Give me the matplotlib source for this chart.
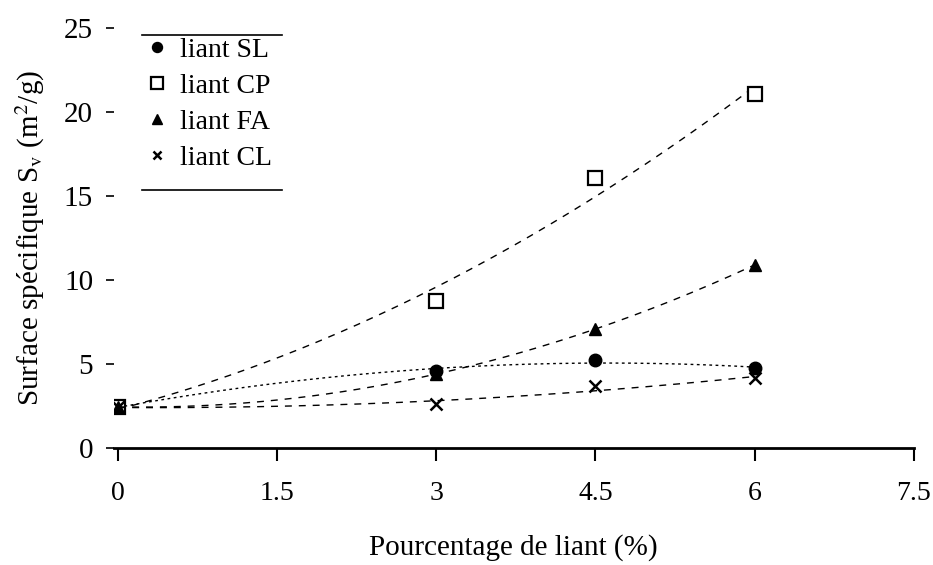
import numpy as np
import matplotlib.pyplot as plt
from matplotlib.lines import Line2D

plt.rcParams['font.family'] = ['Liberation Serif', 'DejaVu Serif']
plt.rcParams['mathtext.fontset'] = 'stix'

# values
liant = [0, 3, 4.5, 6]
sl = [2.45, 4.6, 5.25, 4.75]
cp = [2.45, 8.75, 16.1, 21.1]
fa = [2.45, 4.4, 7.1, 10.9]
cl = [2.45, 2.6, 3.7, 4.15]

xticks = [0, 1.5, 3, 4.5, 6, 7.5]
yticks = [0, 5, 10, 15, 20, 25]

series = [
    ('liant SL', sl, dict(marker='o', mfc='black', ms=9), (0, (2.0, 2.5))),
    ('liant CP', cp, dict(marker='s', mfc='white', ms=10, mew=1.6), (0, (5, 5))),
    ('liant FA', fa, dict(marker='^', mfc='black', ms=9), (0, (5, 5))),
    ('liant CL', cl, dict(marker='x', ms=8, mew=1.8), (0, (5, 5))),
]

fig = plt.figure(figsize=(9.33, 5.65), dpi=100)
ax = fig.add_axes([0.1222, 0.207, 0.857, 0.743])

xx = np.linspace(0, 6, 200)
handles = []
for name, vals, mk, ls in series:
    # 2nd order trend line, like the spreadsheet one
    c = np.polyfit(liant, vals, 2)
    ax.plot(xx, np.polyval(c, xx), color='black', lw=1.0, linestyle=ls)
    ax.plot(liant, vals, linestyle='none', color='black', mec='black', **mk)
    h = dict(mk)
    h['ms'] = h['ms'] * 0.8
    handles.append(Line2D([], [], linestyle='none', color='black', mec='black', label=name, **h))

ax.set_xlim(-0.04, 7.5)
ax.set_ylim(0, 25)
ax.set_xticks(xticks)
ax.set_xticklabels(['0', '1.5', '3', '4.5', '6', '7.5'])
ax.set_yticks(yticks)

for s in ['top', 'right', 'left']:
    ax.spines[s].set_visible(False)
ax.spines['bottom'].set_linewidth(2.0)

ax.tick_params(axis='x', direction='out', length=9, width=1.5, pad=15, labelsize=20)
ax.tick_params(axis='y', direction='out', length=6, width=1.2, pad=9, labelsize=21)

ax.set_xlabel('Pourcentage de liant (%)', fontsize=21, labelpad=20)
ax.set_ylabel(r'Surface spécifique S$_{\mathrm{v}}$ (m$^{2}$/g)', fontsize=21, labelpad=12)

leg = ax.legend(handles=handles, loc='upper left', bbox_to_anchor=(0.008, 1.025),
                frameon=False, fontsize=20, handletextpad=0.25, labelspacing=0.38,
                handlelength=1.2, borderaxespad=0.3)
ax.plot([0.035, 0.21], [0.985, 0.985], transform=ax.transAxes, color='black', lw=1.2, clip_on=False)
ax.plot([0.035, 0.21], [0.615, 0.615], transform=ax.transAxes, color='black', lw=1.2, clip_on=False)

fig.savefig('out.png', dpi=100)
